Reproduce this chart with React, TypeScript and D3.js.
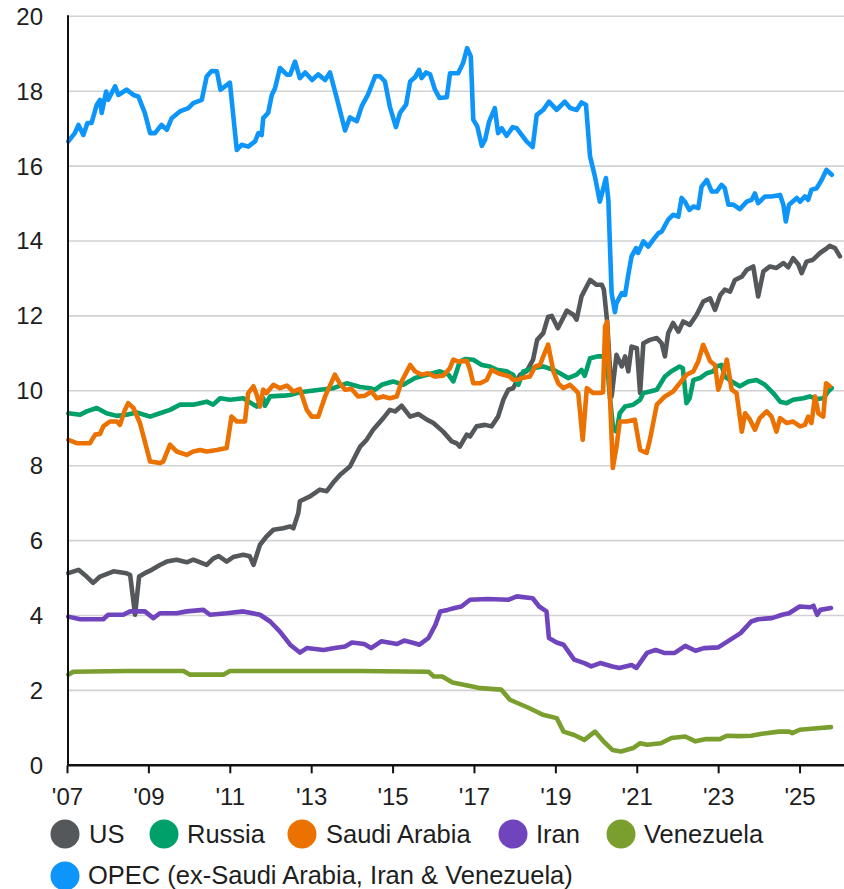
import React from "react";
import * as d3 from "d3";

type Pt = [number, number];

const seriesNames = ["US", "Russia", "Saudi Arabia", "Iran", "Venezuela", "OPEC (ex-Saudi Arabia, Iran & Venezuela)"];
const seriesColors = ["#55585b", "#00a06b", "#eb7100", "#7044bd", "#7a9f2f", "#0e95fa"];

const yTicks = [0, 2, 4, 6, 8, 10, 12, 14, 16, 18, 20];
const xTickYears = [2007, 2009, 2011, 2013, 2015, 2017, 2019, 2021, 2023, 2025];
const xTickLabels = ["'07", "'09", "'11", "'13", "'15", "'17", "'19", "'21", "'23", "'25"];

const usData: Pt[] = [
  [2007.02, 5.13], [2007.27, 5.22], [2007.47, 5.04], [2007.63, 4.87], [2007.8, 5.04], [2008.13, 5.18],
  [2008.45, 5.13], [2008.54, 5.08], [2008.66, 4.02], [2008.76, 5.04], [2008.9, 5.13], [2009.07, 5.22],
  [2009.27, 5.35], [2009.44, 5.44], [2009.68, 5.49], [2009.93, 5.42], [2010.09, 5.49], [2010.42, 5.35],
  [2010.58, 5.52], [2010.71, 5.59], [2010.91, 5.44], [2011.07, 5.56], [2011.32, 5.62], [2011.48, 5.58],
  [2011.57, 5.35], [2011.73, 5.89], [2011.89, 6.11], [2012.06, 6.29], [2012.3, 6.33], [2012.47, 6.38],
  [2012.55, 6.33], [2012.67, 6.73], [2012.71, 7.05], [2012.96, 7.18], [2013.2, 7.36], [2013.37, 7.32],
  [2013.53, 7.55], [2013.7, 7.76], [2013.94, 7.98], [2014.19, 8.51], [2014.35, 8.69], [2014.51, 8.96],
  [2014.76, 9.27], [2014.92, 9.49], [2015.05, 9.45], [2015.21, 9.6], [2015.42, 9.31], [2015.62, 9.38],
  [2015.83, 9.23], [2015.99, 9.14], [2016.23, 8.91], [2016.44, 8.65], [2016.56, 8.6], [2016.64, 8.51],
  [2016.81, 8.83], [2016.89, 8.78], [2017.05, 9.05], [2017.26, 9.09], [2017.42, 9.05], [2017.58, 9.31],
  [2017.71, 9.76], [2017.83, 10.03], [2017.95, 10.07], [2018.12, 10.43], [2018.28, 10.52], [2018.44, 10.83],
  [2018.54, 11.36], [2018.69, 11.54], [2018.81, 11.98], [2018.9, 12.0], [2019.05, 11.67], [2019.27, 12.14],
  [2019.43, 12.03], [2019.51, 11.9], [2019.63, 12.52], [2019.84, 12.96], [2020.0, 12.83], [2020.13, 12.83],
  [2020.18, 12.7], [2020.26, 11.85], [2020.37, 9.85], [2020.49, 10.96], [2020.62, 10.65], [2020.7, 10.92],
  [2020.78, 10.52], [2020.86, 11.18], [2020.99, 11.14], [2021.07, 9.94], [2021.15, 11.27], [2021.31, 11.36],
  [2021.48, 11.41], [2021.6, 11.27], [2021.68, 10.92], [2021.76, 11.54], [2021.88, 11.81], [2022.01, 11.58],
  [2022.13, 11.85], [2022.29, 11.76], [2022.46, 12.03], [2022.62, 12.38], [2022.79, 12.47], [2022.91, 12.16],
  [2023.04, 12.56], [2023.15, 12.7], [2023.28, 12.65], [2023.4, 12.96], [2023.57, 13.05], [2023.69, 13.23],
  [2023.85, 13.32], [2023.97, 12.52], [2024.1, 13.19], [2024.26, 13.32], [2024.42, 13.28], [2024.59, 13.41],
  [2024.71, 13.3], [2024.83, 13.54], [2024.96, 13.37], [2025.04, 13.14], [2025.16, 13.45], [2025.32, 13.5],
  [2025.49, 13.68], [2025.65, 13.8], [2025.73, 13.87], [2025.86, 13.81], [2025.98, 13.59],
];

const russiaData: Pt[] = [
  [2007.02, 9.4], [2007.31, 9.36], [2007.47, 9.45], [2007.72, 9.54], [2007.96, 9.4], [2008.21, 9.33],
  [2008.45, 9.36], [2008.7, 9.42], [2009.03, 9.31], [2009.27, 9.4], [2009.52, 9.49], [2009.76, 9.63],
  [2010.09, 9.63], [2010.42, 9.71], [2010.58, 9.63], [2010.75, 9.8], [2010.99, 9.76], [2011.32, 9.8],
  [2011.65, 9.58], [2011.81, 9.8], [2011.85, 9.6], [2011.98, 9.85], [2012.3, 9.87], [2012.47, 9.89],
  [2012.71, 9.96], [2013.2, 10.03], [2013.53, 10.07], [2013.86, 10.2], [2014.19, 10.1], [2014.44, 10.07],
  [2014.56, 10.03], [2014.72, 10.16], [2015.0, 10.25], [2015.25, 10.16], [2015.54, 10.34], [2015.83, 10.43],
  [2016.15, 10.52], [2016.36, 10.43], [2016.48, 10.25], [2016.64, 10.78], [2016.77, 10.85], [2016.97, 10.83],
  [2017.18, 10.69], [2017.38, 10.65], [2017.55, 10.56], [2017.79, 10.52], [2017.95, 10.43], [2018.08, 10.16],
  [2018.2, 10.52], [2018.45, 10.61], [2018.69, 10.65], [2018.94, 10.56], [2019.1, 10.47], [2019.3, 10.34],
  [2019.51, 10.43], [2019.63, 10.56], [2019.71, 10.4], [2019.84, 10.87], [2020.04, 10.92], [2020.25, 10.92],
  [2020.31, 10.03], [2020.41, 8.96], [2020.49, 8.91], [2020.57, 9.4], [2020.7, 9.58], [2020.9, 9.63],
  [2021.07, 9.76], [2021.15, 9.94], [2021.31, 9.98], [2021.48, 10.03], [2021.68, 10.38], [2021.84, 10.52],
  [2022.04, 10.65], [2022.12, 10.6], [2022.21, 9.67], [2022.29, 9.81], [2022.38, 10.29], [2022.54, 10.34],
  [2022.71, 10.47], [2022.87, 10.52], [2022.95, 10.65], [2023.07, 10.69], [2023.15, 10.38], [2023.32, 10.25],
  [2023.52, 10.12], [2023.73, 10.25], [2023.93, 10.29], [2024.14, 10.16], [2024.34, 9.94], [2024.51, 9.71],
  [2024.67, 9.67], [2024.83, 9.76], [2025.08, 9.8], [2025.24, 9.85], [2025.41, 9.78], [2025.57, 9.8],
  [2025.69, 9.98], [2025.78, 10.07],
];

const saudiData: Pt[] = [
  [2007.02, 8.69], [2007.23, 8.6], [2007.55, 8.6], [2007.68, 8.83], [2007.8, 8.85], [2007.88, 9.05],
  [2008.04, 9.18], [2008.21, 9.18], [2008.29, 9.09], [2008.41, 9.49], [2008.49, 9.67], [2008.62, 9.54],
  [2008.78, 9.14], [2009.03, 8.11], [2009.27, 8.07], [2009.35, 8.11], [2009.52, 8.56], [2009.68, 8.38],
  [2009.93, 8.29], [2010.09, 8.38], [2010.26, 8.42], [2010.42, 8.38], [2010.67, 8.42], [2010.91, 8.47],
  [2011.03, 9.31], [2011.16, 9.18], [2011.36, 9.18], [2011.44, 9.94], [2011.57, 10.12], [2011.65, 9.89],
  [2011.73, 9.58], [2011.81, 10.03], [2011.89, 9.94], [2012.06, 10.16], [2012.22, 10.07], [2012.39, 10.14],
  [2012.55, 9.98], [2012.71, 10.05], [2012.88, 9.49], [2013.0, 9.31], [2013.16, 9.31], [2013.33, 9.85],
  [2013.57, 10.43], [2013.69, 10.2], [2013.82, 10.03], [2013.98, 10.05], [2014.14, 9.85], [2014.31, 9.87],
  [2014.47, 9.98], [2014.6, 9.8], [2014.76, 9.85], [2014.92, 9.8], [2015.09, 9.85], [2015.21, 10.25],
  [2015.42, 10.69], [2015.54, 10.52], [2015.7, 10.43], [2015.86, 10.47], [2016.03, 10.38], [2016.23, 10.4],
  [2016.4, 10.61], [2016.48, 10.83], [2016.6, 10.78], [2016.81, 10.8], [2016.89, 10.56], [2016.97, 10.2],
  [2017.14, 10.2], [2017.3, 10.29], [2017.42, 10.56], [2017.58, 10.47], [2017.71, 10.43], [2017.87, 10.38],
  [2017.95, 10.29], [2018.08, 10.3], [2018.16, 10.34], [2018.36, 10.38], [2018.49, 10.65], [2018.61, 10.69],
  [2018.69, 10.92], [2018.81, 11.23], [2018.94, 10.52], [2019.06, 10.2], [2019.18, 10.07], [2019.35, 10.16],
  [2019.47, 10.03], [2019.55, 9.94], [2019.66, 8.69], [2019.76, 10.07], [2019.92, 9.94], [2020.08, 9.94],
  [2020.16, 9.96], [2020.21, 11.72], [2020.26, 11.85], [2020.31, 10.38], [2020.4, 7.94], [2020.49, 8.51],
  [2020.57, 9.18], [2020.74, 9.18], [2020.94, 9.23], [2021.07, 8.42], [2021.23, 8.34], [2021.31, 8.69],
  [2021.48, 9.63], [2021.68, 9.85], [2021.88, 9.98], [2022.04, 10.2], [2022.21, 10.43], [2022.38, 10.52],
  [2022.5, 10.79], [2022.62, 11.23], [2022.71, 11.0], [2022.79, 10.79], [2022.91, 10.69], [2022.99, 10.03],
  [2023.07, 10.29], [2023.2, 10.83], [2023.32, 10.03], [2023.44, 9.94], [2023.57, 8.91], [2023.65, 9.4],
  [2023.77, 9.23], [2023.89, 8.96], [2024.01, 9.27], [2024.18, 9.45], [2024.3, 9.31], [2024.42, 8.91],
  [2024.51, 9.27], [2024.67, 9.14], [2024.83, 9.18], [2025.0, 9.05], [2025.12, 9.09], [2025.2, 9.31],
  [2025.28, 9.14], [2025.37, 9.85], [2025.45, 9.4], [2025.57, 9.31], [2025.64, 10.2], [2025.73, 10.12],
];

const iranData: Pt[] = [
  [2007.02, 3.97], [2007.31, 3.9], [2007.88, 3.9], [2008.0, 4.02], [2008.37, 4.02], [2008.54, 4.11],
  [2008.9, 4.11], [2009.11, 3.93], [2009.27, 4.06], [2009.68, 4.06], [2009.93, 4.11], [2010.34, 4.15],
  [2010.5, 4.02], [2010.91, 4.06], [2011.32, 4.11], [2011.73, 4.02], [2011.98, 3.84], [2012.22, 3.57],
  [2012.47, 3.22], [2012.71, 3.01], [2012.88, 3.13], [2013.29, 3.08], [2013.57, 3.13], [2013.82, 3.17],
  [2013.99, 3.28], [2014.29, 3.24], [2014.46, 3.13], [2014.71, 3.31], [2015.1, 3.24], [2015.27, 3.33],
  [2015.53, 3.26], [2015.65, 3.22], [2015.87, 3.4], [2016.04, 3.75], [2016.16, 4.11], [2016.34, 4.15],
  [2016.51, 4.2], [2016.68, 4.24], [2016.89, 4.42], [2017.32, 4.44], [2017.83, 4.42], [2018.04, 4.51],
  [2018.43, 4.46], [2018.59, 4.24], [2018.77, 4.11], [2018.83, 3.4], [2019.02, 3.28], [2019.19, 3.22],
  [2019.45, 2.82], [2019.7, 2.73], [2019.87, 2.64], [2020.09, 2.73], [2020.39, 2.64], [2020.56, 2.6],
  [2020.86, 2.68], [2020.98, 2.6], [2021.24, 3.0], [2021.45, 3.08], [2021.66, 3.0], [2021.92, 3.0],
  [2022.18, 3.19], [2022.43, 3.06], [2022.64, 3.13], [2022.99, 3.15], [2023.28, 3.35], [2023.54, 3.53],
  [2023.8, 3.84], [2023.97, 3.9], [2024.31, 3.93], [2024.56, 4.02], [2024.73, 4.06], [2024.99, 4.24],
  [2025.25, 4.22], [2025.33, 4.26], [2025.42, 4.02], [2025.5, 4.15], [2025.76, 4.2],
];

const venezuelaData: Pt[] = [
  [2007.02, 2.42], [2007.14, 2.5], [2008.45, 2.52], [2009.85, 2.52], [2010.01, 2.42], [2010.83, 2.42],
  [2010.99, 2.52], [2014.19, 2.52], [2015.87, 2.5], [2016.0, 2.37], [2016.21, 2.37], [2016.46, 2.21],
  [2016.98, 2.1], [2017.14, 2.06], [2017.66, 2.02], [2017.87, 1.75], [2018.34, 1.53], [2018.68, 1.35],
  [2019.02, 1.26], [2019.19, 0.9], [2019.45, 0.81], [2019.7, 0.68], [2019.96, 0.9], [2020.17, 0.64],
  [2020.39, 0.41], [2020.6, 0.37], [2020.9, 0.46], [2021.07, 0.59], [2021.24, 0.55], [2021.58, 0.59],
  [2021.84, 0.73], [2022.18, 0.77], [2022.43, 0.64], [2022.69, 0.7], [2023.03, 0.7], [2023.2, 0.79],
  [2023.49, 0.78], [2023.8, 0.79], [2024.06, 0.84], [2024.48, 0.9], [2024.73, 0.9], [2024.81, 0.86],
  [2024.99, 0.95], [2025.42, 0.99], [2025.76, 1.02],
];

const opecData: Pt[] = [
  [2007.02, 16.66], [2007.18, 16.88], [2007.27, 17.1], [2007.39, 16.83], [2007.49, 17.15], [2007.59, 17.15],
  [2007.72, 17.64], [2007.8, 17.77], [2007.84, 17.42], [2007.95, 17.99], [2008.0, 17.77], [2008.17, 18.13],
  [2008.25, 17.9], [2008.45, 18.04], [2008.62, 17.9], [2008.74, 17.86], [2008.9, 17.42], [2009.03, 16.88],
  [2009.15, 16.88], [2009.31, 17.1], [2009.44, 16.97], [2009.56, 17.28], [2009.76, 17.46], [2009.97, 17.55],
  [2010.09, 17.68], [2010.3, 17.77], [2010.42, 18.39], [2010.54, 18.54], [2010.67, 18.53], [2010.76, 18.04],
  [2010.87, 18.13], [2010.99, 18.23], [2011.16, 16.43], [2011.28, 16.57], [2011.44, 16.52], [2011.61, 16.66],
  [2011.69, 16.88], [2011.77, 16.83], [2011.81, 17.28], [2011.93, 17.42], [2012.02, 17.9], [2012.1, 18.08],
  [2012.22, 18.62], [2012.39, 18.44], [2012.47, 18.44], [2012.59, 18.79], [2012.71, 18.35], [2012.84, 18.5],
  [2013.01, 18.3], [2013.16, 18.45], [2013.33, 18.3], [2013.45, 18.5], [2013.62, 17.8], [2013.82, 16.95],
  [2013.94, 17.3], [2014.11, 17.2], [2014.23, 17.6], [2014.38, 17.9], [2014.56, 18.4], [2014.68, 18.4],
  [2014.8, 18.26], [2014.92, 17.59], [2015.07, 17.04], [2015.17, 17.42], [2015.32, 17.64], [2015.42, 18.26],
  [2015.54, 18.37], [2015.64, 18.57], [2015.7, 18.35], [2015.81, 18.5], [2015.91, 18.45], [2016.03, 18.04],
  [2016.14, 17.82], [2016.32, 17.84], [2016.4, 18.48], [2016.6, 18.48], [2016.72, 18.75], [2016.82, 19.15],
  [2016.91, 18.93], [2016.97, 17.24], [2017.07, 17.06], [2017.18, 16.54], [2017.26, 16.7], [2017.36, 17.19],
  [2017.5, 17.55], [2017.58, 16.88], [2017.67, 17.01], [2017.79, 16.81], [2017.94, 17.04], [2018.04, 17.01],
  [2018.28, 16.66], [2018.43, 16.51], [2018.53, 17.37], [2018.69, 17.5], [2018.83, 17.72], [2019.02, 17.5],
  [2019.22, 17.72], [2019.35, 17.55], [2019.51, 17.5], [2019.63, 17.7], [2019.74, 17.64], [2019.84, 16.26],
  [2019.96, 15.72], [2020.08, 15.05], [2020.23, 15.68], [2020.29, 15.1], [2020.37, 12.61], [2020.45, 12.1],
  [2020.49, 12.34], [2020.62, 12.61], [2020.7, 12.56], [2020.78, 13.1], [2020.86, 13.59], [2020.97, 13.81],
  [2021.02, 13.68], [2021.15, 13.99], [2021.27, 13.85], [2021.39, 14.03], [2021.52, 14.21], [2021.6, 14.25],
  [2021.76, 14.57], [2021.88, 14.7], [2022.01, 14.65], [2022.09, 15.15], [2022.17, 15.05], [2022.28, 14.83],
  [2022.38, 14.92], [2022.5, 14.88], [2022.58, 15.45], [2022.71, 15.63], [2022.83, 15.32], [2022.95, 15.32],
  [2023.07, 15.5], [2023.15, 15.41], [2023.24, 14.97], [2023.36, 14.97], [2023.52, 14.85], [2023.69, 15.05],
  [2023.81, 15.1], [2023.89, 15.27], [2023.97, 15.01], [2024.14, 15.19], [2024.3, 15.19], [2024.51, 15.23],
  [2024.59, 14.97], [2024.65, 14.52], [2024.73, 14.97], [2024.92, 15.15], [2025.0, 15.05], [2025.12, 15.19],
  [2025.2, 15.1], [2025.28, 15.37], [2025.41, 15.41], [2025.53, 15.63], [2025.65, 15.9], [2025.78, 15.77],
];

const allSeries: Pt[][] = [usData, russiaData, saudiData, iranData, venezuelaData, opecData];

const W = 844;
const H = 889;
const plotLeft = 67.5;
const plotRight = 844;
const plotTop = 16.3;
const plotBottom = 765.3;

export default function App() {
  const x = d3.scaleLinear().domain([2007, 2026.08]).range([plotLeft, plotRight]);
  const y = d3.scaleLinear().domain([0, 20]).range([plotBottom, plotTop]);
  const line = d3
    .line<Pt>()
    .x((d) => x(d[0]))
    .y((d) => y(d[1]))
    .curve(d3.curveLinear);

  const font = "'Liberation Sans', Arial, sans-serif";

  const legendRow1 = [
    { i: 0, cx: 65, tx: 89 },
    { i: 1, cx: 164, tx: 187 },
    { i: 2, cx: 302, tx: 326 },
    { i: 3, cx: 513, tx: 536 },
    { i: 4, cx: 621, tx: 644 },
  ];

  return (
    <svg
      width={W}
      height={H}
      style={{ position: "absolute", left: 0, top: 0, background: "#fff" }}
      fontFamily={font}
    >
      {yTicks
        .filter((t) => t > 0)
        .map((t) => (
          <line key={"g" + t} x1={plotLeft} x2={plotRight} y1={y(t)} y2={y(t)} stroke="#d2d2d2" strokeWidth={1.6} />
        ))}
      {yTicks.map((t) => (
        <text key={"yl" + t} x={43} y={y(t)} dy="0.35em" textAnchor="end" fontSize={24} fill="#1e1e1e">
          {t}
        </text>
      ))}
      {allSeries.map((s, i) => (
        <path
          key={"s" + i}
          d={line(s) || ""}
          fill="none"
          stroke={seriesColors[i]}
          strokeWidth={4.6}
          strokeLinejoin="round"
          strokeLinecap="round"
        />
      ))}
      <line x1={plotLeft + 0.5} x2={plotLeft + 0.5} y1={plotTop - 1} y2={plotBottom} stroke="#111" strokeWidth={2} />
      <line x1={plotLeft} x2={plotRight} y1={plotBottom} y2={plotBottom} stroke="#111" strokeWidth={2.5} />
      {xTickYears.map((yr, i) => (
        <g key={"xt" + yr}>
          <line x1={x(yr)} x2={x(yr)} y1={plotBottom} y2={plotBottom + 8} stroke="#111" strokeWidth={2} />
          <text x={x(yr)} y={805} textAnchor="middle" fontSize={24} fill="#1e1e1e">
            {xTickLabels[i]}
          </text>
        </g>
      ))}
      {legendRow1.map((l) => (
        <g key={"lg" + l.i}>
          <circle cx={l.cx} cy={834} r={14.5} fill={seriesColors[l.i]} />
          <text x={l.tx} y={843} fontSize={25.5} fill="#1e1e1e">
            {seriesNames[l.i]}
          </text>
        </g>
      ))}
      <g>
        <circle cx={65} cy={876} r={14.5} fill={seriesColors[5]} />
        <text x={88} y={884} fontSize={25.5} fill="#1e1e1e">
          {seriesNames[5]}
        </text>
      </g>
    </svg>
  );
}
